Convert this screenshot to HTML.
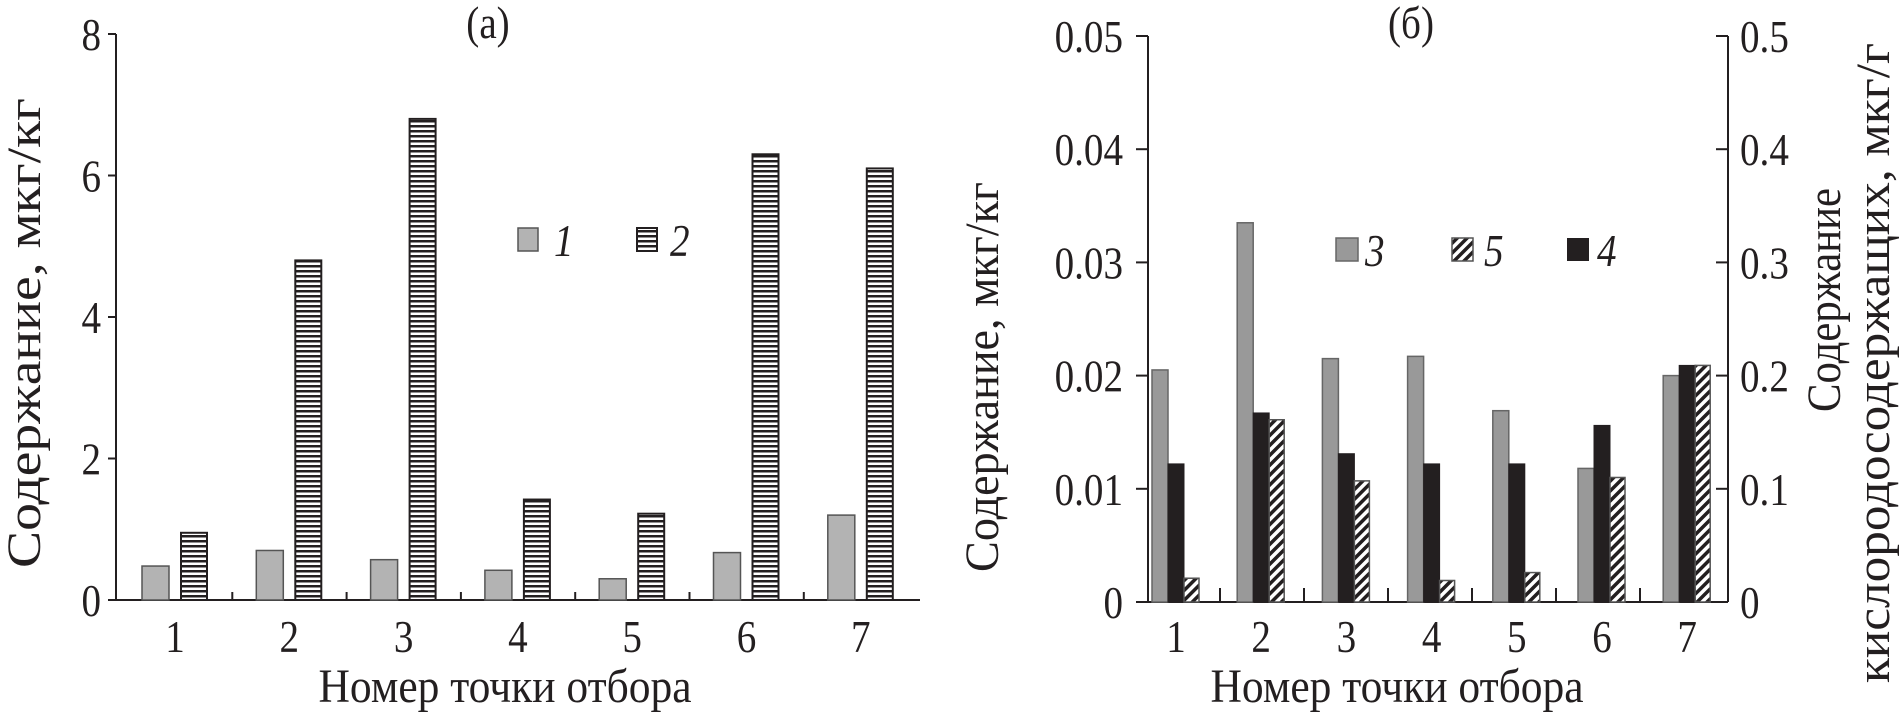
<!DOCTYPE html>
<html><head><meta charset="utf-8"><style>
html,body{margin:0;padding:0;background:#fff;}
svg{display:block;}
text{font-family:"Liberation Serif",serif;fill:#231f20;}
</style></head><body>
<svg id="chart" width="1900" height="716" viewBox="0 0 1900 716">
<defs>
<pattern id="hstripe" width="6" height="5" patternUnits="userSpaceOnUse"><rect width="6" height="5" fill="#fff"/><rect y="0" width="6" height="2.5" fill="#231f20"/></pattern>
<pattern id="dstripe" width="7" height="7" patternUnits="userSpaceOnUse" patternTransform="rotate(-45)"><rect width="7" height="7" fill="#fff"/><rect width="7" height="3.5" fill="#231f20"/></pattern>
</defs>
<g id="ga"></g>
<g id="gb"></g>
</svg>
<script>
const catsA = ["1","2","3","4","5","6","7"];
const s1 = [0.48, 0.70, 0.57, 0.42, 0.30, 0.67, 1.20];
const s2 = [0.95, 4.8, 6.8, 1.42, 1.22, 6.3, 6.1];
const ticksA = [0, 2, 4, 6, 8];
const catsB = ["1","2","3","4","5","6","7"];
const s3 = [0.0205, 0.0335, 0.0215, 0.0217, 0.0169, 0.0118, 0.0200];
const s4 = [0.122, 0.167, 0.131, 0.122, 0.122, 0.156, 0.209];
const s5 = [0.021, 0.161, 0.107, 0.019, 0.026, 0.110, 0.209];
const ticksBL = [0, 0.01, 0.02, 0.03, 0.04, 0.05];
const ticksBLlab = ["0","0.01","0.02","0.03","0.04","0.05"];
const ticksBR = [0, 0.1, 0.2, 0.3, 0.4, 0.5];
const ticksBRlab = ["0","0.1","0.2","0.3","0.4","0.5"];

const NS = "http://www.w3.org/2000/svg";
function mk(parent, tag, attrs, txt){
  const e = document.createElementNS(NS, tag);
  for (const k in attrs) e.setAttribute(k, attrs[k]);
  if (txt !== undefined) e.textContent = txt;
  parent.appendChild(e);
  return e;
}
function txt(parent, x, y, s, opt){
  opt = opt || {};
  const size = opt.size || 46, sx = opt.sx || 0.85, rot = opt.rot || 0;
  const a = {x:0, y:0, 'font-size':size, 'text-anchor':opt.anchor || 'middle',
    transform:'translate(' + x + ',' + y + ') rotate(' + rot + ') scale(' + sx + ',1)'};
  if (opt.italic) a['font-style'] = 'italic';
  if (opt.len) { a.textLength = opt.len / sx; a.lengthAdjust = 'spacingAndGlyphs'; }
  return mk(parent, 'text', a, s);
}
const INK = "#231f20";
// ---- chart a ----
const ga = document.getElementById('ga');
const yA = v => 600 - v / 8 * 566;
const gA = i => 142 + i * 114.3;
let e;
e = mk(ga, 'line', {x1:116, y1:34, x2:116, y2:600, stroke:INK, 'stroke-width':2});


e = mk(ga, 'line', {x1:116, y1:600, x2:920, y2:600, stroke:INK, 'stroke-width':2});


ticksA.forEach(t => {
  mk(ga, 'line', {x1:108, y1:yA(t), x2:116, y2:yA(t), stroke:INK, 'stroke-width':2});
  e = txt(ga, 101, yA(t)+16, String(t), {anchor:'end'});
  
  
});
for (let k = 1; k < catsA.length; k++) {
  const x = 116 + k * 114.3 + 2;
  mk(ga, 'line', {x1:x, y1:592, x2:x, y2:600, stroke:INK, 'stroke-width':2});
}
catsA.forEach((c, i) => {
  e = txt(ga, gA(i)+33, 652, c);
  
  
  e = mk(ga, 'rect', {x:gA(i), y:yA(s1[i]), width:27, height:600-yA(s1[i]), fill:'#b3b3b3', stroke:'#555', 'stroke-width':1.5});
  
  
  e = mk(ga, 'rect', {x:gA(i)+39, y:yA(s2[i]), width:26, height:600-yA(s2[i]), fill:'url(#hstripe)', stroke:INK, 'stroke-width':2});
  
  
});
e = txt(ga, 488, 38, "(a)");


e = txt(ga, 505, 702, "Номер точки отбора", {size:48, len:373});


e = txt(ga, 40, 333, "Содержание, мкг/кг", {size:48, rot:-90, len:470});


e = mk(ga, 'rect', {x:518, y:228, width:20, height:23, fill:'#b3b3b3', stroke:'#555', 'stroke-width':1.5});


e = txt(ga, 554, 256, "1", {anchor:'start', italic:true});


e = mk(ga, 'rect', {x:637, y:228, width:20, height:23, fill:'url(#hstripe)', stroke:INK, 'stroke-width':2});


e = txt(ga, 670, 256, "2", {anchor:'start', italic:true});



// ---- chart b ----
const gb = document.getElementById('gb');
const yL = v => 602 - v / 0.05 * 566;
const yR = v => 602 - v / 0.5 * 566;
const gB = i => 1152 + i * 85.2;
e = mk(gb, 'line', {x1:1148, y1:36, x2:1148, y2:602, stroke:INK, 'stroke-width':2});


e = mk(gb, 'line', {x1:1728, y1:36, x2:1728, y2:602, stroke:INK, 'stroke-width':2});


e = mk(gb, 'line', {x1:1148, y1:602, x2:1728, y2:602, stroke:INK, 'stroke-width':2});


ticksBL.forEach((t, i) => {
  mk(gb, 'line', {x1:1136, y1:yL(t), x2:1148, y2:yL(t), stroke:INK, 'stroke-width':2});
  e = txt(gb, 1123, yL(t)+16, ticksBLlab[i], {anchor:'end'});
  
  
});
ticksBR.forEach((t, i) => {
  mk(gb, 'line', {x1:1716, y1:yR(t), x2:1728, y2:yR(t), stroke:INK, 'stroke-width':2});
  e = txt(gb, 1740, yR(t)+16, ticksBRlab[i], {anchor:'start'});
  
  
});
for (let k = 0; k < catsB.length - 1; k++) {
  const x = 1220 + k * 84;
  mk(gb, 'line', {x1:x, y1:588, x2:x, y2:602, stroke:INK, 'stroke-width':2});
}
catsB.forEach((c, i) => {
  e = txt(gb, gB(i)+24, 652, c);
  
  
  e = mk(gb, 'rect', {x:gB(i), y:yL(s3[i]), width:16, height:602-yL(s3[i]), fill:'#999', stroke:'#666', 'stroke-width':1.5});
  
  
  e = mk(gb, 'rect', {x:gB(i)+16, y:yR(s4[i]), width:16, height:602-yR(s4[i]), fill:'#231f20', stroke:'#231f20', 'stroke-width':1});
  
  
  e = mk(gb, 'rect', {x:gB(i)+32, y:yR(s5[i]), width:15, height:602-yR(s5[i]), fill:'url(#dstripe)', stroke:'#555', 'stroke-width':1.5});
  
  
});
e = txt(gb, 1411, 38, "(б)");


e = txt(gb, 1397, 702, "Номер точки отбора", {size:48, len:373});


e = txt(gb, 998, 377, "Содержание, мкг/кг", {size:48, rot:-90, len:390});


e = txt(gb, 1840, 300, "Содержание", {size:48, rot:-90, len:224});


e = txt(gb, 1889, 363, "кислородосодержащих, мкг/г", {size:48, rot:-90, len:640});


e = mk(gb, 'rect', {x:1336, y:238, width:22, height:23, fill:'#999', stroke:'#666', 'stroke-width':1.5});


e = txt(gb, 1365, 266, "3", {anchor:'start', italic:true});


e = mk(gb, 'rect', {x:1452, y:238, width:21, height:23, fill:'url(#dstripe)', stroke:'#555', 'stroke-width':1.5});


e = txt(gb, 1484, 266, "5", {anchor:'start', italic:true});


e = mk(gb, 'rect', {x:1567, y:238, width:22, height:23, fill:'#231f20'});


e = txt(gb, 1597, 266, "4", {anchor:'start', italic:true});


</script>
</body></html>
